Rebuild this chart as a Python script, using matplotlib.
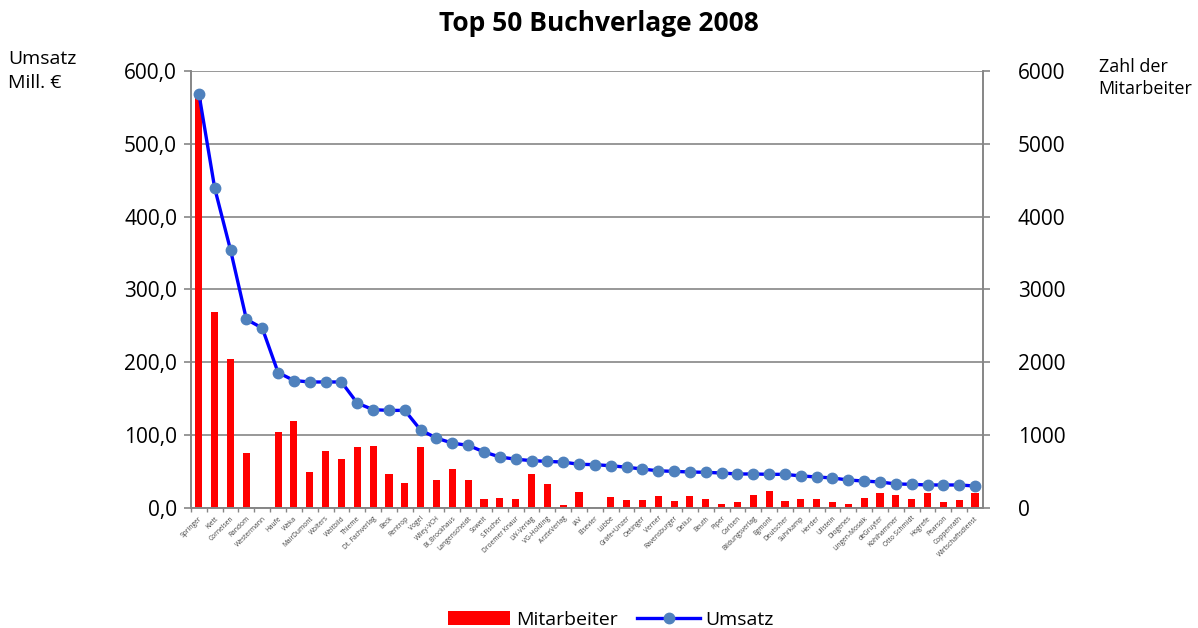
import numpy as np
import matplotlib
matplotlib.use("Agg")
import matplotlib.pyplot as plt
from matplotlib.ticker import FuncFormatter, MultipleLocator

plt.rcParams['font.family'] = ['Open Sans', 'DejaVu Sans']

verlage = ["Springer", "Klett", "Cornelsen", "Random", "Westermann", "Haufe", "Weka",
           "MairDumont", "Wolters", "Weltbild", "Thieme", "Dt. Fachverlag", "Beck",
           "Rentrop", "Vogel", "Wiley-VCH", "BI_Brockhaus", "Langenscheidt", "Soweit",
           "S.Fischer", "Droemer Knaur", "LW-Verlag", "VG-Holding", "ArzteVerlag", "IAV",
           "Elsevier", "Lübbe", "Gräfe+Unzer", "Oetinger", "Verner", "Ravensburger",
           "Delius", "Beuth", "Piper", "Carlsen", "Bildungsverlag", "Egmont", "Deutscher",
           "Suhrkamp", "Herder", "Ullstein", "Diogenes", "Lingen-Mosaik", "deGruyter",
           "Kohlhammer", "Otto Schmidt", "Hogrefe", "Pearson", "Coppenrath",
           "Wirtschaftsdienst"]

umsatz = [569, 439, 354, 259, 247, 186, 175, 173, 173, 173, 144, 135, 134, 134,
          107, 96, 89, 86, 77, 70, 67, 65, 64, 63, 60, 59.5, 58, 56, 53.5, 51, 50.3,
          49.4, 49, 48, 46.7, 46.7, 46.2, 46.2, 44, 42.6, 41.2, 38.4, 37, 35.7, 33,
          32.5, 31.6, 31.6, 31.6, 30.2]

mitarbeiter = [5650, 2690, 2045, 755, 0, 1045, 1195, 495, 785, 675, 840, 850, 465,
               345, 840, 385, 535, 385, 125, 135, 125, 465, 330, 40, 220, 0, 150,
               110, 110, 165, 95, 165, 125, 55, 80, 180, 235, 95, 125, 125, 80, 55,
               135, 205, 180, 125, 205, 80, 110, 205]

x = np.arange(len(verlage))

fig = plt.figure(figsize=(11.98, 6.28), dpi=100)
ax = fig.add_axes([0.1594, 0.1911, 0.6611, 0.6959])
ax2 = ax.twinx()

# bars on the right axis, behind the line
ax2.bar(x, mitarbeiter, width=0.45, color="#ff0000", zorder=2, label="Mitarbeiter")
ax2.set_ylim(0, 6000)
ax2.yaxis.set_major_locator(MultipleLocator(1000))
ax2.grid(axis="y", color="#868686", linewidth=1.2, zorder=0)
ax2.set_axisbelow(True)

ax.plot(x, umsatz, color="#0000ff", linewidth=2.4, marker="o", markersize=7.5,
        markerfacecolor="#4f81bd", markeredgecolor="#4f81bd", zorder=3, label="Umsatz")
ax.set_ylim(0, 600)
ax.set_xlim(-0.5, len(verlage) - 0.5)
ax.yaxis.set_major_locator(MultipleLocator(100))
ax.yaxis.set_major_formatter(FuncFormatter(lambda v, p: f"{v:.1f}".replace(".", ",")))
ax.set_zorder(ax2.get_zorder() + 1)
ax.patch.set_visible(False)

for a in (ax, ax2):
    for s in a.spines.values():
        s.set_color("#868686")
        s.set_linewidth(1.2)
    a.spines["top"].set_visible(False)
    a.tick_params(axis="y", colors="#868686", labelcolor="black", labelsize=15,
                  length=5, width=1.2)

ax.tick_params(axis="y", pad=5)
ax2.tick_params(axis="y", pad=20)

# minor ticks between categories, labels under the bars
ax.set_xticks(x - 0.5, minor=True)
ax.set_xticks(x)
ax.set_xticklabels(verlage, rotation=45, ha="right", rotation_mode="anchor",
                   fontsize=4.8, color="#404040")
ax.tick_params(axis="x", which="major", length=0, pad=5)
ax.tick_params(axis="x", which="minor", length=3, color="#868686", width=1)

fig.text(0.5, 0.962, "Top 50 Buchverlage 2008", ha="center", va="center",
         fontsize=19, fontweight="bold")
fig.text(0.007, 0.887, "Umsatz\nMill. €", ha="left", va="center", fontsize=14,
         linespacing=1.4)
fig.text(0.917, 0.876, "Zahl der\nMitarbeiter", ha="left", va="center", fontsize=13,
         linespacing=1.25)

h1, l1 = ax2.get_legend_handles_labels()
h2, l2 = ax.get_legend_handles_labels()
fig.legend(h1 + h2, l1 + l2, loc="center", bbox_to_anchor=(0.51, 0.013), ncol=2,
           frameon=False, fontsize=14, handlelength=3.2, columnspacing=1.0,
           handletextpad=0.3)

fig.savefig("out.png", dpi=100)
